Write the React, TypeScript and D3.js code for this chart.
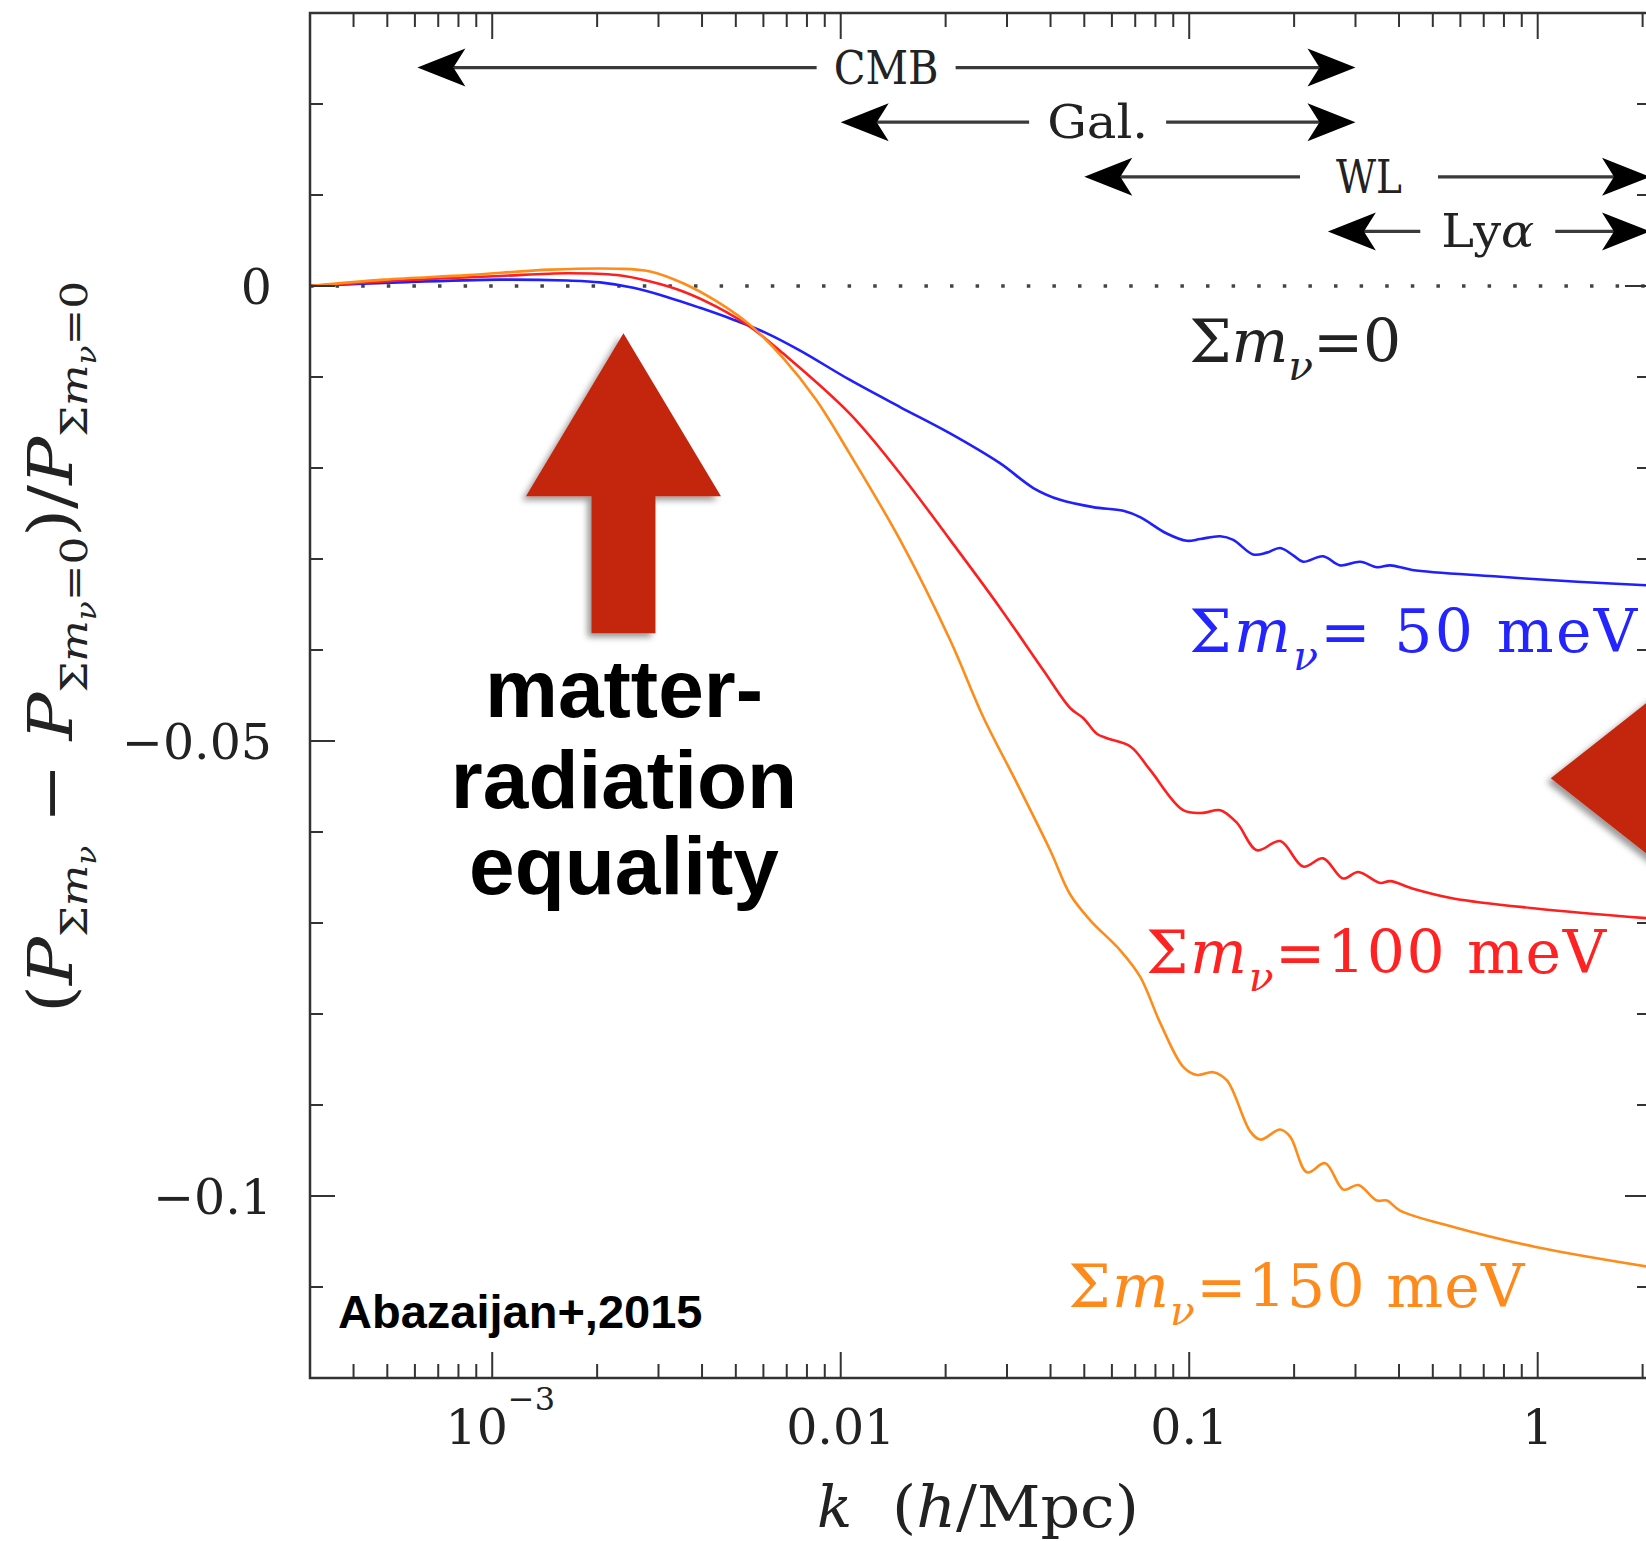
import React from "react";
import * as d3 from "d3";

// ---- data (k in h/Mpc, relative suppression) ----
const series50: [number, number][] = [
  [3.0e-4, 0.0], [5.4e-4, 0.0004], [1.05e-3, 0.0007], [1.64e-3, 0.0006], [2.04e-3, 0.0004],
  [2.54e-3, -0.0002], [3.17e-3, -0.0012], [3.95e-3, -0.0024], [4.92e-3, -0.0037], [6.14e-3, -0.0052],
  [7.65e-3, -0.0071], [0.0106, -0.0103], [0.0148, -0.0133], [0.0206, -0.0162], [0.0287, -0.0195],
  [0.0357, -0.0222], [0.0426, -0.0235], [0.053, -0.0243], [0.0647, -0.0247], [0.0723, -0.0254],
  [0.0862, -0.0272], [0.0984, -0.028], [0.1076, -0.0278], [0.1228, -0.0275], [0.1338, -0.0279],
  [0.1526, -0.0295], [0.167, -0.0293], [0.1824, -0.0288], [0.1987, -0.0296], [0.2123, -0.0303],
  [0.2422, -0.0297], [0.271, -0.0307], [0.3095, -0.0303], [0.3458, -0.0309], [0.3775, -0.0307],
  [0.4365, -0.0312], [0.75, -0.0319], [1.3, -0.0325], [2.1, -0.0329],
];
const series100: [number, number][] = [
  [3.0e-4, 0.0], [5.4e-4, 0.0006], [1.05e-3, 0.0011], [1.64e-3, 0.0014], [2.28e-3, 0.0012],
  [2.84e-3, 0.0005], [3.53e-3, -0.0006], [4.41e-3, -0.0023], [5.5e-3, -0.0045],
  [6.83e-3, -0.0074], [0.0106, -0.014], [0.0148, -0.0206], [0.0206, -0.0279],
  [0.0287, -0.0354], [0.0381, -0.0422], [0.0456, -0.0464], [0.0497, -0.0475],
  [0.0543, -0.0492], [0.0581, -0.0497], [0.0678, -0.0506], [0.0773, -0.0532], [0.0961, -0.0576],
  [0.1097, -0.0579], [0.1228, -0.0576], [0.1371, -0.059], [0.1565, -0.062], [0.1824, -0.061],
  [0.2123, -0.0638], [0.2422, -0.0629], [0.2764, -0.0651], [0.3055, -0.0644], [0.3532, -0.0656],
  [0.3775, -0.0654], [0.4365, -0.0662], [0.573, -0.0673], [0.987, -0.0684], [2.1, -0.0695],
];
const series150: [number, number][] = [
  [3.0e-4, 0.0], [4.9e-4, 0.0007], [8.5e-4, 0.0012], [1.47e-3, 0.0018], [2.28e-3, 0.0019],
  [2.84e-3, 0.0016], [3.53e-3, 0.0003], [4.41e-3, -0.0017], [5.5e-3, -0.0043],
  [6.83e-3, -0.0079], [0.0085, -0.0125], [0.0106, -0.0184], [0.0148, -0.0279], [0.0206, -0.0389],
  [0.0256, -0.0473], [0.032, -0.0546], [0.0399, -0.062], [0.0456, -0.0669], [0.052, -0.0697],
  [0.0634, -0.073], [0.0723, -0.0759], [0.0826, -0.081], [0.0961, -0.0858], [0.1052, -0.0867],
  [0.1172, -0.0864], [0.1283, -0.0873], [0.1496, -0.0929], [0.16, -0.0938], [0.1824, -0.0927],
  [0.195, -0.0935], [0.2178, -0.0974], [0.2456, -0.0964], [0.2771, -0.0993], [0.3055, -0.0988],
  [0.3458, -0.1005], [0.3693, -0.1005], [0.4027, -0.1016], [0.573, -0.1034], [0.987, -0.1056],
  [2.1, -0.1078],
];

const kDomain: [number, number] = [3.0e-4, 2.1];
const vDomain: [number, number] = [-0.12, 0.03];

const xMajorTicks = [0.001, 0.01, 0.1, 1];
const xTickLabels = ["10", "0.01", "0.1", "1"];
const yMajorTicks = [0, -0.05, -0.1];
const yTickLabels = ["0", "\u22120.05", "\u22120.1"];

const rangeNames = ["CMB", "Gal.", "WL", "Ly"];
const rangeKMin = [6.1e-4, 0.01, 0.05, 0.25];
const rangeKMax = [0.3, 0.3, 2.1, 2.1];
const rangeLabelK = [0.0135, 0.0546, 0.328, 0.719];
const rangeRowValue = [0.024, 0.018, 0.012, 0.006];

const massValues = ["0", " 50 meV", "100 meV", "150 meV"];
const massLabelK = [0.1, 0.1, 0.0752, 0.045];
const massLabelV = [-0.0084, -0.0402, -0.0755, -0.1122];
const massColors = ["#222222", "#2424ff", "#ff2222", "#ff8a1c"];
const curveColors = ["#1f1fff", "#ff1f1f", "#ff8c1a"];

const kEquality = 2.38e-3;
const vEqualityTip = -0.0052;
const kRightArrow = 1.09;
const vRightArrow = -0.0541;

const W = 1646;
const H = 1541;
const L = 310, R = 1650, T = 13, B = 1378;
const serif = "'DejaVu Serif', serif";
const sans = "'Liberation Sans', Arial, sans-serif";

function MassLabel({ x, y, color, value, size, width }: any) {
  return (
    <text x={x} y={y} fill={color} fontFamily={serif} fontSize={size} textLength={width} lengthAdjust="spacing">
      <tspan>Σ</tspan>
      <tspan fontStyle="italic">m</tspan>
      <tspan fontStyle="italic" fontSize={size * 0.68} dy={size * 0.3}>ν</tspan>
      <tspan dy={-size * 0.3}>={value}</tspan>
    </text>
  );
}

export default function App() {
  const x = d3.scaleLog().domain(kDomain).range([L, R]);
  const y = d3.scaleLinear().domain(vDomain).range([B, T]);
  const line = d3
    .line<[number, number]>()
    .x((d) => x(d[0]))
    .y((d) => y(d[1]))
    .curve(d3.curveCatmullRom.alpha(0.5));

  const xTicks: { k: number; major: boolean }[] = [];
  for (let e = -4; e <= 0; e++) {
    for (let m = 1; m <= 9; m++) {
      const k = m * Math.pow(10, e);
      if (k >= kDomain[0] && k <= kDomain[1]) xTicks.push({ k, major: m === 1 });
    }
  }
  const yTicks = d3.range(-12, 4).map((i) => ({ v: i / 100, major: i % 5 === 0 }));

  const series = [series50, series100, series150];
  const pads = [17, 18, 36, 21];
  const widths = [105, 101, 66, 93];
  const massWidths = [212, 448, 460, 456];

  const arrowHead = (tx: number, ty: number, dir: number) => {
    const l = 48, w = 19, n = 36;
    return `${tx},${ty} ${tx + dir * l},${ty - w} ${tx + dir * n},${ty} ${tx + dir * l},${ty + w}`;
  };

  const eqX = x(kEquality), eqY = y(vEqualityTip);
  const upArrow = [
    [eqX, eqY], [eqX + 97.5, eqY + 163], [eqX + 32, eqY + 163], [eqX + 32, eqY + 300],
    [eqX - 32, eqY + 300], [eqX - 32, eqY + 163], [eqX - 97.5, eqY + 163],
  ].map((p) => p.join(",")).join(" ");
  const rx = x(kRightArrow), ry = y(vRightArrow);
  const leftArrow = [[rx, ry], [rx + 160, ry - 126], [rx + 160, ry + 126]].map((p) => p.join(",")).join(" ");

  return (
    <svg width={W} height={H} style={{ position: "absolute", left: 0, top: 0, background: "#fff" }}>
      <defs>
        <filter id="shadow" x="-20%" y="-20%" width="140%" height="140%">
          <feDropShadow dx="-4" dy="4" stdDeviation="3" floodColor="#000" floodOpacity="0.4" />
        </filter>
        <clipPath id="plotClip">
          <rect x={L} y={T} width={R - L} height={B - T} />
        </clipPath>
      </defs>
      <rect x={0} y={0} width={W} height={H} fill="#fff" />

      {/* zero reference */}
      <line x1={L} x2={R} y1={y(0)} y2={y(0)} stroke="#444" strokeWidth={3.5} strokeDasharray="3.5,22.1" />

      {/* curves */}
      <g clipPath="url(#plotClip)">
        {series.map((s, i) => (
          <path key={i} d={line(s) || ""} fill="none" stroke={curveColors[i]} strokeWidth={2.6} strokeLinejoin="round" />
        ))}
      </g>

      {/* frame and ticks */}
      <rect x={L} y={T} width={R - L} height={B - T} fill="none" stroke="#333" strokeWidth={2.5} />
      <g stroke="#333" strokeWidth={2}>
        {xTicks.map((t, i) => {
          const len = t.major ? 26 : 14;
          const px = x(t.k);
          return (
            <g key={i}>
              <line x1={px} x2={px} y1={B} y2={B - len} />
              <line x1={px} x2={px} y1={T} y2={T + len} />
            </g>
          );
        })}
        {yTicks.map((t, i) => {
          const len = t.major ? 25 : 13;
          const py = y(t.v);
          return (
            <g key={i}>
              <line x1={L} x2={L + len} y1={py} y2={py} />
              <line x1={R} x2={R - len} y1={py} y2={py} />
            </g>
          );
        })}
      </g>

      {/* tick labels */}
      <g fontFamily={serif} fontSize={49} fill="#222">
        {xMajorTicks.map((k, i) =>
          i === 0 ? (
            <text key={i} x={x(k) + 8} y={1444} textAnchor="middle">
              {xTickLabels[i]}
              <tspan fontSize={32} dy={-34}>{"\u22123"}</tspan>
            </text>
          ) : (
            <text key={i} x={x(k)} y={1444} textAnchor="middle">{xTickLabels[i]}</text>
          )
        )}
        {yMajorTicks.map((v, i) => (
          <text key={i} x={272} y={y(v) + 18} textAnchor="end">{yTickLabels[i]}</text>
        ))}
      </g>

      {/* axis titles */}
      <g fontFamily={serif} fill="#222">
        <text x={817} y={1527} fontSize={58} fontStyle="italic">k</text>
        <text x={892} y={1527} fontSize={58} textLength={247} lengthAdjust="spacingAndGlyphs">
          (<tspan fontStyle="italic">h</tspan>/Mpc)
        </text>
        <text transform="translate(72,647) rotate(-90)" textAnchor="middle" fontSize={62}
          textLength={732} lengthAdjust="spacingAndGlyphs">
          <tspan>(</tspan>
          <tspan fontStyle="italic">P</tspan>
          <tspan fontSize={38} dy={15}>Σ</tspan>
          <tspan fontSize={38} fontStyle="italic">m</tspan>
          <tspan fontSize={27} fontStyle="italic" dy={9}>ν</tspan>
          <tspan dy={-24}>{" \u2212 "}</tspan>
          <tspan fontStyle="italic">P</tspan>
          <tspan fontSize={38} dy={15}>Σ</tspan>
          <tspan fontSize={38} fontStyle="italic">m</tspan>
          <tspan fontSize={27} fontStyle="italic" dy={9}>ν</tspan>
          <tspan fontSize={38} dy={-9}>=0</tspan>
          <tspan dy={-15}>)/</tspan>
          <tspan fontStyle="italic">P</tspan>
          <tspan fontSize={38} dy={15}>Σ</tspan>
          <tspan fontSize={38} fontStyle="italic">m</tspan>
          <tspan fontSize={27} fontStyle="italic" dy={9}>ν</tspan>
          <tspan fontSize={38} dy={-9}>=0</tspan>
        </text>
      </g>

      {/* probe ranges */}
      <g>
        {rangeNames.map((name, i) => {
          const yy = y(rangeRowValue[i]);
          const xl = x(rangeKMin[i]);
          const xr = x(rangeKMax[i]);
          const cx = x(rangeLabelK[i]);
          const half = widths[i] / 2;
          return (
            <g key={i}>
              <line x1={xl + 36} x2={cx - half - pads[i]} y1={yy} y2={yy} stroke="#3a3a3a" strokeWidth={3.2} />
              <line x1={cx + half + pads[i]} x2={xr - 36} y1={yy} y2={yy} stroke="#3a3a3a" strokeWidth={3.2} />
              <polygon points={arrowHead(xl, yy, 1)} fill="#000" />
              <polygon points={arrowHead(xr, yy, -1)} fill="#000" />
              <text x={cx} y={yy + 16} textAnchor="middle" fontFamily={serif} fontSize={47} fill="#222"
                textLength={widths[i]} lengthAdjust="spacingAndGlyphs">
                {name}
                {i === 3 ? <tspan fontStyle="italic">α</tspan> : null}
              </text>
            </g>
          );
        })}
      </g>

      {/* mass labels */}
      {massValues.map((v, i) => (
        <MassLabel key={i} x={x(massLabelK[i])} y={y(massLabelV[i])} color={massColors[i]} value={v}
          size={60} width={massWidths[i]} />
      ))}

      {/* red arrows */}
      <polygon points={upArrow} fill="#c4250b" filter="url(#shadow)" />
      <polygon points={leftArrow} fill="#c4250b" filter="url(#shadow)" />

      {/* annotation text */}
      <g fontFamily={sans} fontWeight="bold" fill="#000" textAnchor="middle" fontSize={82}>
        <text x={624} y={717}>matter-</text>
        <text x={624} y={808}>radiation</text>
        <text x={624} y={894}>equality</text>
      </g>
      <text x={338} y={1328} fontFamily={sans} fontWeight="bold" fontSize={47} fill="#000">Abazaijan+,2015</text>
    </svg>
  );
}
